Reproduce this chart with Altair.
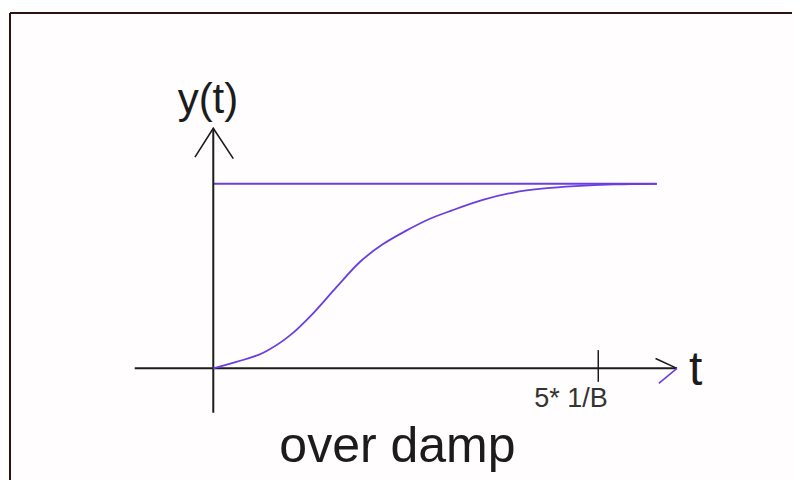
import altair as alt
import pandas as pd

# ---- data (t in units of 1/B, y normalised to final value) ----
curve_t = [0.0, 0.3, 0.65, 1.0, 1.3, 1.6, 1.9, 2.2, 2.5, 2.8, 3.1, 3.5, 3.9, 4.3, 4.7, 5.2, 5.76]
curve_y = [0.0, 0.035, 0.085, 0.18, 0.30, 0.44, 0.575, 0.672, 0.745, 0.808, 0.856, 0.913,
           0.953, 0.975, 0.988, 0.997, 1.0]

final_value = [1.0]
final_t_range = [0.0, 5.76]

settle_tick_t = [5.0]
settle_label = ["5* 1/B"]

# axes geometry (diagram arrows), in data units
x_axis_t = [-1.02, 6.02]
y_axis_y = [-0.24, 1.30]
y_arrow_t = [-0.238, 0.0, 0.26]
y_arrow_y = [1.145, 1.301, 1.137]
x_arrow_up_t = [5.744, 6.022]
x_arrow_up_y = [0.054, 0.0]
x_arrow_dn_t = [5.786, 6.022]
x_arrow_dn_y = [-0.081, 0.0]

labels_text = ["y(t)", "t", "over damp"]

W, H = 784, 472
xs = alt.Scale(domain=[-2.666, 7.516], nice=False, zero=False)
ys = alt.Scale(domain=[-0.605, 1.953], nice=False, zero=False)
X = alt.X("t:Q", scale=xs, axis=None)
Y = alt.Y("y:Q", scale=ys, axis=None)

PURPLE = "#6b3ee0"
INK = "#1c1c1c"
FRAME = "#2e1212"

curve_df = pd.DataFrame({"t": curve_t, "y": curve_y})
curve = alt.Chart(curve_df).mark_line(color=PURPLE, strokeWidth=1.8, interpolate="monotone").encode(x=X, y=Y)

asym_df = pd.DataFrame({"t": [final_t_range[0]], "t2": [final_t_range[1]], "y": final_value})
asym = alt.Chart(asym_df).mark_rule(color=PURPLE, strokeWidth=2).encode(x=X, x2="t2:Q", y=Y)

xaxis_df = pd.DataFrame({"t": [x_axis_t[0]], "t2": [x_axis_t[1]], "y": [0.0]})
xaxis = alt.Chart(xaxis_df).mark_rule(color=INK, strokeWidth=2).encode(x=X, x2="t2:Q", y=Y)

yaxis_df = pd.DataFrame({"t": [0.0], "y": [y_axis_y[0]], "y2": [y_axis_y[1]]})
yaxis = alt.Chart(yaxis_df).mark_rule(color=INK, strokeWidth=2).encode(x=X, y=Y, y2="y2:Q")

yarrow_df = pd.DataFrame({"t": y_arrow_t, "y": y_arrow_y, "o": [0, 1, 2]})
yarrow = alt.Chart(yarrow_df).mark_line(color=INK, strokeWidth=1.6).encode(x=X, y=Y, order="o:Q")

xup_df = pd.DataFrame({"t": x_arrow_up_t, "y": x_arrow_up_y})
xup = alt.Chart(xup_df).mark_line(color=INK, strokeWidth=1.6).encode(x=X, y=Y)
xdn_df = pd.DataFrame({"t": x_arrow_dn_t, "y": x_arrow_dn_y})
xdn = alt.Chart(xdn_df).mark_line(color=PURPLE, strokeWidth=1.6).encode(x=X, y=Y)

tick_df = pd.DataFrame({"t": settle_tick_t, "y": [0.099], "y2": [-0.073]})
tick = alt.Chart(tick_df).mark_rule(color=INK, strokeWidth=1.5).encode(x=X, y=Y, y2="y2:Q")

tick_lbl_df = pd.DataFrame({"t": [4.645], "y": [-0.207], "s": settle_label})
tick_lbl = alt.Chart(tick_lbl_df).mark_text(
    font="Liberation Sans", fontSize=27, color="#333333", align="center", baseline="alphabetic"
).encode(x=X, y=Y, text="s:N")

ylab_df = pd.DataFrame({"t": [-0.069], "y": [1.384], "s": [labels_text[0]]})
ylab = alt.Chart(ylab_df).mark_text(
    font="Liberation Sans", fontSize=42, color=INK, align="center", baseline="alphabetic"
).encode(x=X, y=Y, text="s:N")

tlab_df = pd.DataFrame({"t": [6.178], "y": [-0.09], "s": [labels_text[1]]})
tlab = alt.Chart(tlab_df).mark_text(
    font="Liberation Sans", fontSize=48, color=INK, align="left", baseline="alphabetic"
).encode(x=X, y=Y, text="s:N")

title_df = pd.DataFrame({"t": [2.392], "y": [-0.506], "s": [labels_text[2]]})
title = alt.Chart(title_df).mark_text(
    font="Liberation Sans", fontSize=50, color=INK, align="center", baseline="alphabetic"
).encode(x=X, y=Y, text="s:N")

# frame (decoration)
frame_top = alt.Chart(pd.DataFrame({"k": [0]})).mark_rule(color=FRAME, strokeWidth=2).encode(
    x=alt.value(2), x2=alt.value(W), y=alt.value(5))
frame_left = alt.Chart(pd.DataFrame({"k": [0]})).mark_rule(color=FRAME, strokeWidth=2).encode(
    x=alt.value(2), y=alt.value(5), y2=alt.value(H))

chart = alt.layer(
    frame_top, frame_left, asym, xaxis, yaxis, yarrow, xup, xdn, tick, curve,
    tick_lbl, ylab, tlab, title
).properties(
    width=W, height=H, padding=0, autosize=alt.AutoSizeParams(type="none"), background="#fffdfd"
).configure_view(stroke=None)

chart.save("out.html", embed_options={"renderer": "svg", "actions": False})
